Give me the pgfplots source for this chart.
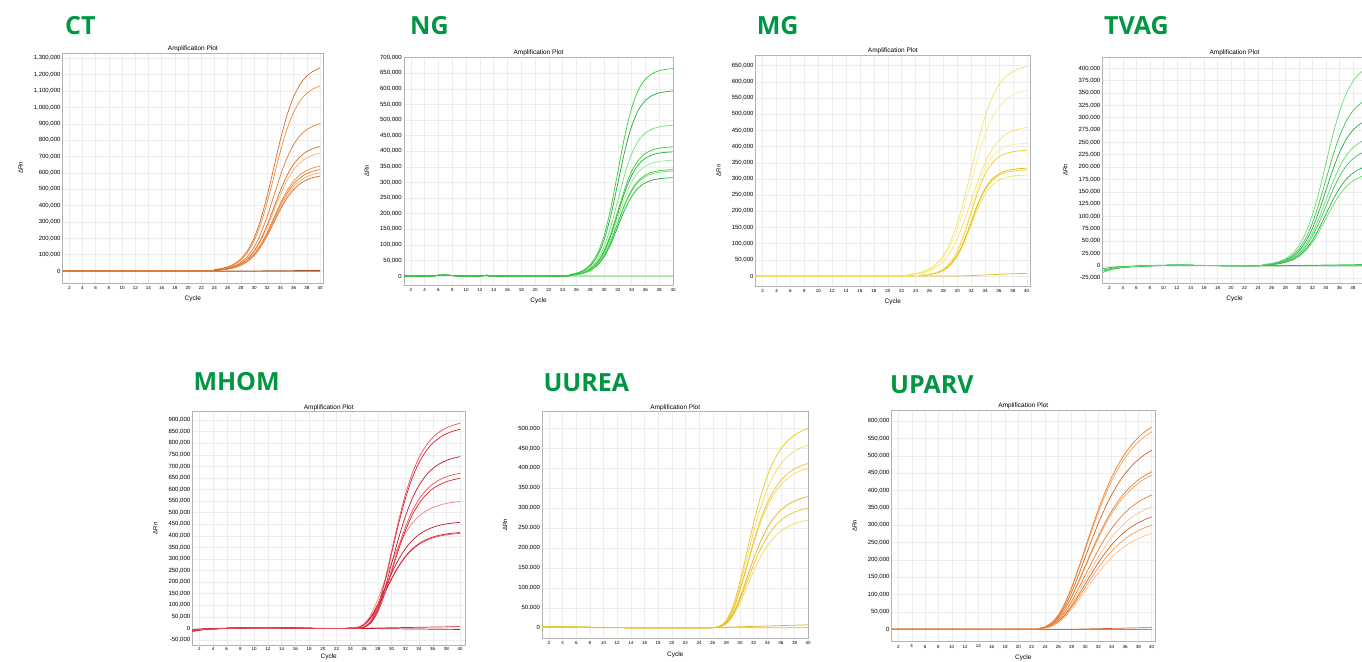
\documentclass[border=0pt]{standalone}
\usepackage{fontspec}
\setmainfont{Liberation Sans}
\newfontfamily\titlefont{Open Sans}
\usepackage{pgfplots}
\usepackage{pgfplotstable}
\pgfplotsset{compat=1.18}

\definecolor{titlegreen}{RGB}{0,150,68}
\definecolor{ct1}{RGB}{217,102,35}
\definecolor{ct2}{RGB}{240,140,60}
\definecolor{ct3}{RGB}{245,175,115}
\definecolor{ct4}{RGB}{230,120,45}
\definecolor{ctd}{RGB}{170,85,40}
\definecolor{ng1}{RGB}{50,205,50}
\definecolor{ng2}{RGB}{110,225,110}
\definecolor{ng3}{RGB}{30,170,60}
\definecolor{ng4}{RGB}{150,235,150}
\definecolor{mg1}{RGB}{240,205,30}
\definecolor{mg2}{RGB}{245,225,100}
\definecolor{mg3}{RGB}{225,185,20}
\definecolor{mg4}{RGB}{250,235,150}
\definecolor{tv1}{RGB}{60,200,80}
\definecolor{tv2}{RGB}{100,220,110}
\definecolor{tv3}{RGB}{40,170,70}
\definecolor{mh1}{RGB}{220,30,45}
\definecolor{mh2}{RGB}{235,80,90}
\definecolor{mh3}{RGB}{190,25,40}
\definecolor{mh4}{RGB}{240,130,130}
\definecolor{uu1}{RGB}{235,195,30}
\definecolor{uu2}{RGB}{245,215,90}
\definecolor{uu3}{RGB}{225,175,25}
\definecolor{up1}{RGB}{235,125,45}
\definecolor{up2}{RGB}{245,160,90}
\definecolor{up3}{RGB}{210,100,40}
\definecolor{up4}{RGB}{250,190,140}

\pgfplotstableread{
x a b c d e f g h i n1 n2
1 0 0 0 0 0 0 0 0 0 0 0
23 0 0 0 0 0 0 0 0 0 0 0
24 8500 7700 6200 5200 4900 4400 4200 4100 4000 0 0
25 14700 13400 10700 9000 8500 7600 7300 7100 6900 0 0
26 25400 23100 18400 15600 14700 13100 12700 12300 11900 0 0
27 43600 39700 31600 26700 25300 22500 21800 21100 20400 0 0
28 74100 67500 53800 45400 43000 38200 37000 35800 34600 0 200
29 123700 112800 89800 75800 71800 63900 61900 59900 57900 0 500
30 201000 183200 145900 123200 116700 103800 100500 97300 94000 0 800
31 313400 285600 227400 192100 182000 161700 156700 151600 146600 0 1100
32 461300 420400 334800 282800 267900 238100 230700 223200 215800 0 1500
33 632700 576600 459200 387800 367400 326600 316400 306100 295900 0 1800
34 804100 732700 583600 492800 466900 415000 402000 389100 376100 0 2100
35 952000 867600 691000 583500 552800 491400 476000 460700 445300 0 2400
36 1064300 969900 772500 652300 618000 549300 532200 515000 497800 0 2700
37 1141600 1040400 828600 699700 662900 589200 570800 552400 534000 0 3000
38 1191300 1085600 864700 730200 691700 614900 595700 576400 557200 0 3200
39 1221800 1113400 886800 748800 709400 630600 610900 591200 571500 0 3500
40 1240000 1130000 900000 760000 720000 640000 620000 600000 580000 0 3800
}\tCT

\pgfplotstableread{
x a b c d e f g h i n1
1 0 0 0 0 0 0 0 0 0 0
5 0 0 0 0 0 0 0 0 0 0
6 2500 2500 2500 2500 2500 2500 2500 2500 2500 2500
7 3000 3000 3000 3000 3000 3000 3000 3000 3000 3000
8 1500 1500 1500 1500 1500 1500 1500 1500 1500 1500
9 0 0 0 0 0 0 0 0 0 0
12 0 0 0 0 0 0 0 0 0 0
13 2500 2500 2500 2500 2500 2500 2500 2500 2500 2500
14 0 0 0 0 0 0 0 0 0 0
24 0 0 0 0 0 0 0 0 0 0
25 4500 4000 3200 2800 2700 2500 2300 2300 2100 0
26 9100 8100 6600 5600 5400 5100 4600 4600 4300 0
27 18300 16300 13300 11400 10900 10200 9400 9200 8600 0
28 36200 32300 26300 22600 21700 20200 18600 18300 17200 0
29 70000 62500 50900 43600 41900 39100 35900 35400 33200 0
30 129000 115000 93700 80300 77200 72000 66100 65200 61100 0
31 219300 195500 159300 136500 131200 122300 112400 110800 103900 0
32 333600 297500 242300 207700 199700 186100 171100 168600 158000 0
33 447900 399400 325300 278900 268100 249900 229700 226300 212200 0
34 538200 479900 390900 335100 322100 300300 276000 271900 254900 0
35 597100 532500 433700 371800 357400 333200 306200 301700 282900 0
36 631000 562600 458300 392800 377600 352000 323500 318800 298900 0
37 648900 578700 471300 404000 388400 362000 332800 327900 307400 0
38 658100 586900 478000 409700 393900 367200 337500 332500 311800 0
39 662700 591000 481400 412600 396600 369700 339800 334900 313900 0
40 665000 593000 483000 414000 398000 371000 341000 336000 315000 0
}\tNG

\pgfplotstableread{
x a b c d e f g h n1
1 0 0 0 0 0 0 0 0 0
22 0 0 0 0 0 0 0 0 0
23 4400 3900 3100 700 600 500 500 500 0
24 7600 6700 5400 1400 1300 1100 1100 1000 0
25 13100 11600 9300 2800 2600 2200 2200 2100 0
26 22600 20000 16000 5600 5300 4500 4500 4300 0
27 38300 33900 27200 11300 10700 9100 9000 8600 0
28 64000 56700 45400 22400 21200 18200 17900 17000 0
29 104000 92100 73800 43200 40900 35100 34600 32900 0
30 162100 143600 115000 79500 75300 64600 63600 60500 0
31 238700 211400 169300 135200 127900 109800 108200 102900 500
32 327300 289900 232200 205700 194600 167100 164500 156500 1000
33 415900 368400 295100 276200 261400 224300 220900 210200 2000
34 492500 436200 349400 331800 314000 269500 265500 252500 3000
35 550600 487600 390600 368200 348400 299000 294500 280200 4000
36 590600 523000 419000 389000 368100 316000 311200 296000 5000
37 616300 545800 437200 400100 378600 325000 320100 304500 6000
38 632000 559800 448400 405800 384000 329600 324600 308800 6800
39 641500 568100 455100 408600 386700 331900 326900 310900 7500
40 647000 573000 459000 410000 388000 333000 328000 312000 8000
}\tMG

\pgfplotstableread{
x a b c d e f g n1 n2
1 -10000 -10000 -10000 -10000 -10000 -10000 -10000 -14000 -6000
2 -7000 -7000 -7000 -7000 -7000 -7000 -7000 -9000 -4000
3 -4500 -4500 -4500 -4500 -4500 -4500 -4500 -6000 -2500
5 -2000 -2000 -2000 -2000 -2000 -2000 -2000 -2500 -1000
8 0 0 0 0 0 0 0 -500 500
12 1000 1000 1000 1000 1000 1000 1000 800 1500
16 500 500 500 500 500 500 500 300 800
20 0 0 0 0 0 0 0 -200 300
24 0 0 0 0 0 0 0 0 0
25 2800 2300 2000 1800 1600 1400 1300 0 0
26 4800 4000 3500 3100 2800 2400 2200 0 0
27 8300 7000 6100 5300 4800 4200 3800 0 0
28 14300 12000 10500 9100 8300 7200 6600 200 0
29 24300 20400 17800 15500 14100 12200 11200 400 0
30 40500 34000 29800 25900 23500 20400 18600 600 0
31 65800 55300 48400 42100 38200 33100 30300 800 0
32 102600 86200 75400 65700 59500 51600 47200 1000 0
33 151000 126900 111000 96700 87600 75900 69500 1200 0
34 207100 174000 152300 132600 120100 104100 95300 1400 0
35 263200 221100 193500 168500 152700 132300 121100 1600 0
36 311700 261800 229100 199500 180800 156600 143400 1800 0
37 348500 292700 256100 223000 202100 175100 160300 2000 0
38 373800 314000 274700 239200 216800 187800 171900 2200 0
39 390000 327600 286700 249600 226200 196000 179400 2400 0
40 400000 336000 294000 256000 232000 201000 184000 2600 0
}\tTV

\pgfplotstableread{
x a b c d e f g h i n1 n2
1 -10000 -10000 -10000 -10000 -10000 -10000 -10000 -10000 -10000 -14000 -6000
2 -6000 -6000 -6000 -6000 -6000 -6000 -6000 -6000 -6000 -9000 -3000
3 -3500 -3500 -3500 -3500 -3500 -3500 -3500 -3500 -3500 -5000 -1500
5 -1000 -1000 -1000 -1000 -1000 -1000 -1000 -1000 -1000 -1500 0
8 1500 1500 1500 1500 1500 1500 1500 1500 1500 1000 2000
12 2500 2500 2500 2500 2500 2500 2500 2500 2500 2000 3000
16 1000 1000 1000 1000 1000 1000 1000 1000 1000 500 1500
20 -500 -500 -500 -500 -500 -500 -500 -500 -500 -1000 0
24 0 0 0 0 0 300 300 200 200 0 -500
25 500 500 400 400 400 3900 3300 3000 3000 0 -600
26 6400 6200 5300 4800 4700 20100 16800 15200 15000 500 -800
27 32600 31600 27300 24700 23800 59900 50100 45300 44800 1000 -1000
28 97500 94600 81600 73700 71300 124800 104300 94300 93400 1500 -1300
29 203000 197000 170000 153500 148500 204100 170600 154200 152700 2000 -1600
30 332000 322200 278000 251000 242800 283800 237200 214400 212300 2500 -1900
31 461600 448100 386600 349100 337600 354000 295900 267400 264900 3000 -2200
32 575800 558900 482200 435400 421100 410500 343100 310100 307100 3500 -2500
33 667700 648100 559200 504900 488300 453400 378900 342500 339200 4000 -2800
34 737400 715800 617600 557600 539300 484500 405000 366100 362500 4500 -3100
35 788200 765100 660100 596000 576500 506700 423500 382800 379100 5000 -3400
36 824200 800000 690200 623200 602800 522000 436300 394400 390600 5500 -3700
37 849100 824200 711100 642100 621000 532600 445100 402400 398500 6000 -4000
38 866300 840900 725500 655100 633600 539800 451200 407800 403900 6500 -4300
39 878000 852300 735300 664000 642200 544700 455300 411500 407500 7000 -4600
40 886000 860000 742000 670000 648000 548000 458000 414000 410000 7500 -5000
}\tMH

\pgfplotstableread{
x a b c d e f g n1 n2
1 2000 2000 2000 2000 2000 2000 2000 3000 1000
5 1500 1500 1500 1500 1500 1500 1500 2000 500
10 500 500 500 500 500 500 500 1000 0
15 0 0 0 0 0 0 0 0 0
25 0 0 0 0 0 0 0 0 0
26 300 300 200 200 200 200 200 300 0
27 3700 3300 3000 2900 2400 2200 2000 800 0
28 18600 17000 15300 14900 12200 11200 10000 1300 0
29 55500 50800 45700 44400 36500 33300 30000 1800 0
30 115600 105900 95300 92500 76100 69400 62400 2300 0
31 189100 173200 155800 151200 124400 113400 102100 2800 0
32 262900 240800 216600 210300 173000 157700 141900 3300 0
33 327900 300300 270100 262300 215700 196700 177000 3800 0
34 380300 348300 313300 304200 250200 228200 205300 4300 0
35 419900 384600 346000 335900 276300 251900 226700 4800 0
36 448800 411100 369800 359000 295300 269300 242400 5300 0
37 469300 429900 386700 375400 308800 281600 253400 5800 0
38 483600 442900 398400 386800 318200 290100 261100 6300 0
39 493400 451900 406500 394700 324600 296000 266400 6800 0
40 500000 458000 412000 400000 329000 300000 270000 7300 0
}\tUU

\pgfplotstableread{
x a b c d e f g h i j n1 n2
1 0 0 0 0 0 0 0 0 0 0 0 0
22 0 0 0 0 0 0 0 0 0 0 0 0
23 2000 1900 1800 1500 1500 1300 1200 1100 1000 900 0 0
24 7200 7000 6300 5600 5500 4800 4300 4000 3700 3400 0 0
25 19300 18800 17100 15000 14700 12800 11700 10700 9900 9100 0 0
26 41700 40700 36900 32500 31800 27700 25300 23200 21500 19800 0 0
27 76200 74400 67400 59300 58000 50600 46100 42300 39200 36100 0 0
28 121700 118800 107700 94800 92700 80800 73700 67700 62600 57600 0 200
29 175200 171000 155100 136500 133500 116300 106100 97400 90200 83000 0 600
30 232800 227300 206100 181300 177300 154600 141000 129400 119800 110200 0 1000
31 290500 283500 257100 226200 221200 192800 175900 161400 149500 137500 0 1400
32 345100 336800 305400 268700 262800 229100 208900 191800 177600 163400 0 1800
33 394600 385200 349300 307300 300500 262000 238900 219300 203100 186800 0 2200
34 438100 427500 387700 341100 333600 290800 265200 243500 225400 207400 0 2600
35 475200 463800 420600 370100 361900 315400 287700 264100 244500 225000 0 3000
36 506300 494200 448100 394300 385600 336100 306600 281400 260600 239700 0 3400
37 531900 519200 470800 414200 405100 353100 322100 295600 273700 251800 0 3800
38 552700 539500 489200 430400 421000 366900 334700 307200 284400 261700 0 4200
39 569600 555900 504100 443600 433800 378100 344900 316500 293100 269700 0 4600
40 583000 569000 516000 454000 444000 387000 353000 324000 300000 276000 0 5000
}\tUP

\pgfplotsset{
  qpcr/.style={
    scale only axis, anchor=south west,
    xmin=1, xmax=40, xtick distance=2,
    grid=major,
    major grid style={draw=black!7, line width=0.4pt},
    axis line style={draw=black!30, line width=0.5pt},
    major tick length=0pt,
    scaled y ticks=false,
    /pgf/number format/assume math mode=true,
    yticklabel style={font=\fontsize{6}{7}\selectfont, /pgf/number format/fixed, /pgf/number format/1000 sep={,}, inner sep=2pt},
    xticklabel style={font=\fontsize{4.5}{5}\selectfont, inner sep=3pt},
    title={Amplification Plot},
    every axis title shift=0pt,
    title style={font=\fontsize{6.5}{7}\selectfont, at={(0.5,1)}, anchor=south, inner sep=1pt},
    xlabel={Cycle}, ylabel={ΔRn},
    xlabel style={font=\fontsize{6.5}{7}\selectfont, inner sep=1pt, yshift=-2.5pt},
    ylabel style={font=\fontsize{6}{7}\selectfont, inner sep=1pt},
    ylabel shift=8pt,
    every axis plot/.append style={line width=0.7pt, mark=none, smooth},
  },
}

\begin{document}
\begin{tikzpicture}
\useasboundingbox (0pt,0pt) rectangle (1362pt,661pt);

% CT
\begin{axis}[qpcr, at={(62.7pt,378pt)}, width=260.3pt, height=230pt,
  xmax=40.45, ymin=-73000, ymax=1332000, ytick distance=100000]
\addplot[ct2] table[x=x,y=n1]{\tCT};
\addplot[ctd] table[x=x,y=n2]{\tCT};
\addplot[ct1] table[x=x,y=i]{\tCT};
\addplot[ct3] table[x=x,y=h]{\tCT};
\addplot[ct4] table[x=x,y=g]{\tCT};
\addplot[ct2] table[x=x,y=f]{\tCT};
\addplot[ct3] table[x=x,y=e]{\tCT};
\addplot[ct1] table[x=x,y=d]{\tCT};
\addplot[ct4] table[x=x,y=c]{\tCT};
\addplot[ct2] table[x=x,y=b]{\tCT};
\addplot[ct1] table[x=x,y=a]{\tCT};
\end{axis}

% NG
\begin{axis}[qpcr, at={(404pt,376pt)}, width=269pt, height=228pt,
  xmax=40, ymin=-28800, ymax=702000, ytick distance=50000]
\addplot[ng1] table[x=x,y=n1]{\tNG};
\addplot[ng3] table[x=x,y=i]{\tNG};
\addplot[ng2] table[x=x,y=h]{\tNG};
\addplot[ng1] table[x=x,y=g]{\tNG};
\addplot[ng4] table[x=x,y=f]{\tNG};
\addplot[ng3] table[x=x,y=e]{\tNG};
\addplot[ng1] table[x=x,y=d]{\tNG};
\addplot[ng2] table[x=x,y=c]{\tNG};
\addplot[ng3] table[x=x,y=b]{\tNG};
\addplot[ng1] table[x=x,y=a]{\tNG};
\end{axis}

% MG
\begin{axis}[qpcr, at={(755.7pt,375pt)}, width=274.3pt, height=231pt,
  xmax=40.47, ymin=-31000, ymax=683000, ytick distance=50000]
\addplot[mg3] table[x=x,y=n1]{\tMG};
\addplot[mg2] table[x=x,y=h]{\tMG};
\addplot[mg1] table[x=x,y=g]{\tMG};
\addplot[mg3] table[x=x,y=f]{\tMG};
\addplot[mg1] table[x=x,y=e]{\tMG};
\addplot[mg4] table[x=x,y=d]{\tMG};
\addplot[mg2] table[x=x,y=c]{\tMG};
\addplot[mg4] table[x=x,y=b]{\tMG};
\addplot[mg2] table[x=x,y=a]{\tMG};
\end{axis}

% TVAG (cut at the right edge, as in the reference)
\begin{axis}[qpcr, at={(1102.5pt,378pt)}, width=264pt, height=226pt,
  xmax=40, ymin=-35000, ymax=423000, ytick distance=25000,
  xtick={2,4,...,38}]
\addplot[tv1] table[x=x,y=n1]{\tTV};
\addplot[tv3] table[x=x,y=n2]{\tTV};
\addplot[tv2] table[x=x,y=g]{\tTV};
\addplot[tv3] table[x=x,y=f]{\tTV};
\addplot[tv1] table[x=x,y=e]{\tTV};
\addplot[tv2] table[x=x,y=d]{\tTV};
\addplot[tv3] table[x=x,y=c]{\tTV};
\addplot[tv1] table[x=x,y=b]{\tTV};
\addplot[tv2] table[x=x,y=a]{\tTV};
\end{axis}

% MHOM
\begin{axis}[qpcr, at={(192.4pt,16pt)}, width=272.6pt, height=233.3pt,
  xmax=40.7, ymin=-72000, ymax=936000, ytick distance=50000,
  xticklabel style={inner sep=2pt},
  xlabel style={yshift=2pt}]
\addplot[mh1] table[x=x,y=n1]{\tMH};
\addplot[mh3] table[x=x,y=n2]{\tMH};
\addplot[mh2] table[x=x,y=i]{\tMH};
\addplot[mh1] table[x=x,y=h]{\tMH};
\addplot[mh3] table[x=x,y=g]{\tMH};
\addplot[mh4] table[x=x,y=f]{\tMH};
\addplot[mh1] table[x=x,y=e]{\tMH};
\addplot[mh2] table[x=x,y=d]{\tMH};
\addplot[mh3] table[x=x,y=c]{\tMH};
\addplot[mh1] table[x=x,y=b]{\tMH};
\addplot[mh2] table[x=x,y=a]{\tMH};
\end{axis}

% UUREA
\begin{axis}[qpcr, at={(542.2pt,22.7pt)}, width=266pt, height=226.6pt,
  xmax=40, ymin=-26600, ymax=542000, ytick distance=50000]
\addplot[uu3] table[x=x,y=n1]{\tUU};
\addplot[uu1] table[x=x,y=n2]{\tUU};
\addplot[uu2] table[x=x,y=g]{\tUU};
\addplot[uu1] table[x=x,y=f]{\tUU};
\addplot[uu3] table[x=x,y=e]{\tUU};
\addplot[uu2] table[x=x,y=d]{\tUU};
\addplot[uu1] table[x=x,y=c]{\tUU};
\addplot[uu2] table[x=x,y=b]{\tUU};
\addplot[uu1] table[x=x,y=a]{\tUU};
\end{axis}

% UPARV
\begin{axis}[qpcr, at={(891.7pt,19.3pt)}, width=263.3pt, height=231.7pt,
  xmax=40.5, ymin=-35700, ymax=632000, ytick distance=50000]
\addplot[up1] table[x=x,y=n1]{\tUP};
\addplot[up3] table[x=x,y=n2]{\tUP};
\addplot[up4] table[x=x,y=j]{\tUP};
\addplot[up2] table[x=x,y=i]{\tUP};
\addplot[up3] table[x=x,y=h]{\tUP};
\addplot[up4] table[x=x,y=g]{\tUP};
\addplot[up1] table[x=x,y=f]{\tUP};
\addplot[up2] table[x=x,y=e]{\tUP};
\addplot[up1] table[x=x,y=d]{\tUP};
\addplot[up3] table[x=x,y=c]{\tUP};
\addplot[up2] table[x=x,y=b]{\tUP};
\addplot[up1] table[x=x,y=a]{\tUP};
\end{axis}

\begin{scope}[every node/.style={anchor=base west, inner sep=0pt, text=titlegreen, font=\titlefont\bfseries\fontsize{25}{25}\selectfont}]
\node at (65pt,626.7pt) {CT};
\node at (410pt,626pt) {NG};
\node at (756.7pt,626pt) {MG};
\node at (1104pt,626pt) {TVAG};
\node at (193.3pt,270.3pt) {MHOM};
\node at (543.3pt,269.3pt) {UUREA};
\node at (890pt,267pt) {UPARV};
\end{scope}
\end{tikzpicture}
\end{document}
